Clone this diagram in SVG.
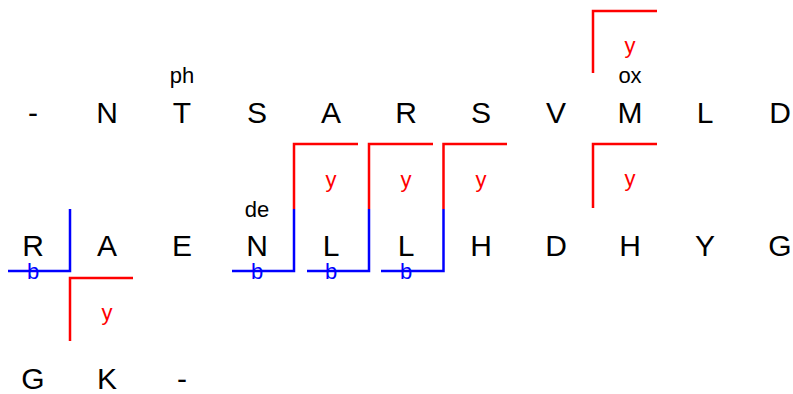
<svg xmlns="http://www.w3.org/2000/svg" width="793" height="394" viewBox="0 0 793 394">
<style>
text{font-family:"Liberation Sans",Arial,sans-serif;text-anchor:middle}
.aa{font-size:30px;fill:#000}
.m{font-size:22px;fill:#000}
.yl{font-size:22px;fill:#ff0000}
.bl{font-size:22px;fill:#0000ff}
.r{fill:none;stroke:#ff0000;stroke-width:2.5;stroke-linejoin:miter}
.b{fill:none;stroke:#0000ff;stroke-width:2.5;stroke-linejoin:miter}
</style>
<rect width="793" height="394" fill="#fff"/>
<g id="connectors">
  <polyline class="r" points="593,73 593,11 657,11"/>
  <polyline class="r" points="593,208 593,144 657,144"/>
  <polyline class="b" points="8,271 70,271 70,209"/>
  <polyline class="r" points="70,341 70,278 133,278"/>
  <polyline class="b" points="232,271 294,271 294,209"/>
  <polyline class="r" points="294,209 294,144 358,144"/>
  <polyline class="b" points="307,271 369,271 369,209"/>
  <polyline class="r" points="369,209 369,144 433,144"/>
  <polyline class="b" points="381,271 443.5,271 443.5,209"/>
  <polyline class="r" points="443.5,209 443.5,144 507,144"/>
</g>
<g id="row1">
  <text class="aa" x="33" y="123">-</text>
  <text class="aa" x="107" y="123">N</text>
  <g id="T3"><text class="m" x="182" y="83">ph</text><text class="aa" x="182" y="123">T</text></g>
  <text class="aa" x="257" y="123">S</text>
  <text class="aa" x="331" y="123">A</text>
  <text class="aa" x="406" y="123">R</text>
  <text class="aa" x="481" y="123">S</text>
  <text class="aa" x="556" y="123">V</text>
  <g id="M9"><text class="m" x="630" y="83">ox</text><text class="aa" x="630" y="123">M</text></g>
  <text class="aa" x="705" y="123">L</text>
  <text class="aa" x="780" y="123">D</text>
</g>
<g id="row2">
  <text class="aa" x="33" y="256">R</text>
  <text class="aa" x="107" y="256">A</text>
  <text class="aa" x="182" y="256">E</text>
  <g id="N15"><text class="m" x="257" y="217">de</text><text class="aa" x="257" y="256">N</text></g>
  <text class="aa" x="331" y="256">L</text>
  <text class="aa" x="406" y="256">L</text>
  <text class="aa" x="481" y="256">H</text>
  <text class="aa" x="556" y="256">D</text>
  <text class="aa" x="630" y="256">H</text>
  <text class="aa" x="705" y="256">Y</text>
  <text class="aa" x="780" y="256">G</text>
</g>
<g id="row3">
  <text class="aa" x="33" y="389">G</text>
  <text class="aa" x="107" y="389">K</text>
  <text class="aa" x="182" y="389">-</text>
</g>
<g id="ion-labels">
  <text class="yl" x="630" y="53">y</text>
  <text class="yl" x="630" y="186">y</text>
  <text class="yl" x="331" y="187">y</text>
  <text class="yl" x="406" y="187">y</text>
  <text class="yl" x="481" y="187">y</text>
  <text class="yl" x="107" y="320">y</text>
  <text class="bl" x="33" y="278.5">b</text>
  <text class="bl" x="257" y="278.5">b</text>
  <text class="bl" x="331" y="278.5">b</text>
  <text class="bl" x="406" y="278.5">b</text>
</g>
</svg>
